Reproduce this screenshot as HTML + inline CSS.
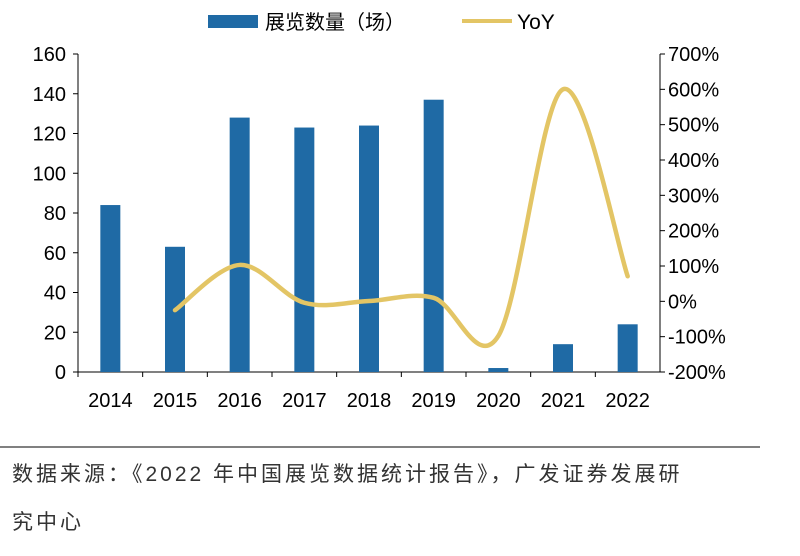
<!DOCTYPE html>
<html><head><meta charset="utf-8"><style>
body{margin:0;background:#fff;width:800px;height:556px;overflow:hidden;font-family:"Liberation Sans","Noto Sans CJK SC",sans-serif}
.src{position:absolute;left:12px;font-size:21px;color:#333;letter-spacing:3px;white-space:nowrap}
</style></head><body>
<svg id="chart" width="800" height="556" style="position:absolute;left:0;top:0" font-family="Liberation Sans, Noto Sans CJK SC, sans-serif">
<g id="legend">
<rect x="208" y="15" width="50" height="13" fill="#1F6AA5"/>
<text x="265" y="29" font-size="20" fill="#000">展览数量（场）</text>
<line x1="462" y1="21" x2="512" y2="21" stroke="#E3C565" stroke-width="4"/>
<text x="517" y="29" font-size="21" fill="#000">YoY</text>
</g>
<g id="axes"></g><g id="bars"></g><g id="line"></g>
<line x1="0" y1="447" x2="760" y2="447" stroke="#000" stroke-width="1"/>
</svg>
<div class="src" style="top:458px">数据来源：《2022 年中国展览数据统计报告》，广发证券发展研</div>
<div class="src" style="top:506px">究中心</div>
<script>
const categories=["2014","2015","2016","2017","2018","2019","2020","2021","2022"];
const counts=[84,63,128,123,124,137,2,14,24];
const yoy=[null,-25,103,-4,1,10,-98,600,71];
const leftTicks=[0,20,40,60,80,100,120,140,160];
const rightTicks=[-200,-100,0,100,200,300,400,500,600,700];
const NS="http://www.w3.org/2000/svg";
const x0=78,x1=660,yb=372,yt=54;
const bw=(x1-x0)/categories.length;
const xc=i=>x0+bw*(i+0.5);
const yL=v=>yb-(v/160)*(yb-yt);
const yR=v=>yb-((v+200)/900)*(yb-yt);
function mk(tag,attrs,parent){const e=document.createElementNS(NS,tag);for(const k in attrs)e.setAttribute(k,attrs[k]);parent.appendChild(e);return e;}
const ax=document.getElementById('axes');
let e=mk('line',{x1:x0,y1:yt,x2:x0,y2:yb,stroke:'#000'},ax);


e=mk('line',{x1:x1,y1:yt,x2:x1,y2:yb,stroke:'#000'},ax);


e=mk('line',{x1:x0,y1:yb,x2:x1,y2:yb,stroke:'#000'},ax);


leftTicks.forEach(v=>{const y=yL(v);
mk('line',{x1:x0-5,y1:y,x2:x0,y2:y,stroke:'#000'},ax);
const t=mk('text',{x:x0-12,y:y+7,'font-size':20,'text-anchor':'end'},ax);t.textContent=v;

});
rightTicks.forEach(v=>{const y=yR(v);
mk('line',{x1:x1,y1:y,x2:x1+5,y2:y,stroke:'#000'},ax);
const t=mk('text',{x:x1+8,y:y+7,'font-size':20},ax);t.textContent=v+'%';

});
categories.forEach((c,i)=>{
mk('line',{x1:x0+bw*i,y1:yb,x2:x0+bw*i,y2:yb+5,stroke:'#000'},ax);
const t=mk('text',{x:xc(i),y:yb+35,'font-size':20,'text-anchor':'middle'},ax);t.textContent=c;

});
const bg=document.getElementById('bars');
counts.forEach((v,i)=>{const r=mk('rect',{x:xc(i)-10,y:yL(v),width:20,height:yb-yL(v),fill:'#1F6AA5'},bg);

});
const pts=[];yoy.forEach((v,i)=>{if(v!==null)pts.push([xc(i),yR(v)]);});
let d='M'+pts[0][0]+','+pts[0][1];
for(let i=0;i<pts.length-1;i++){const p0=pts[Math.max(0,i-1)],p1=pts[i],p2=pts[i+1],p3=pts[Math.min(pts.length-1,i+2)];
const c1=[p1[0]+(p2[0]-p0[0])/6,p1[1]+(p2[1]-p0[1])/6],c2=[p2[0]-(p3[0]-p1[0])/6,p2[1]-(p3[1]-p1[1])/6];
d+=' C'+c1+' '+c2+' '+p2;}
const pl=mk('path',{d:d,fill:'none',stroke:'#E3C565','stroke-width':4.5,'stroke-linecap':'round'},document.getElementById('line'));


</script>
</body></html>
